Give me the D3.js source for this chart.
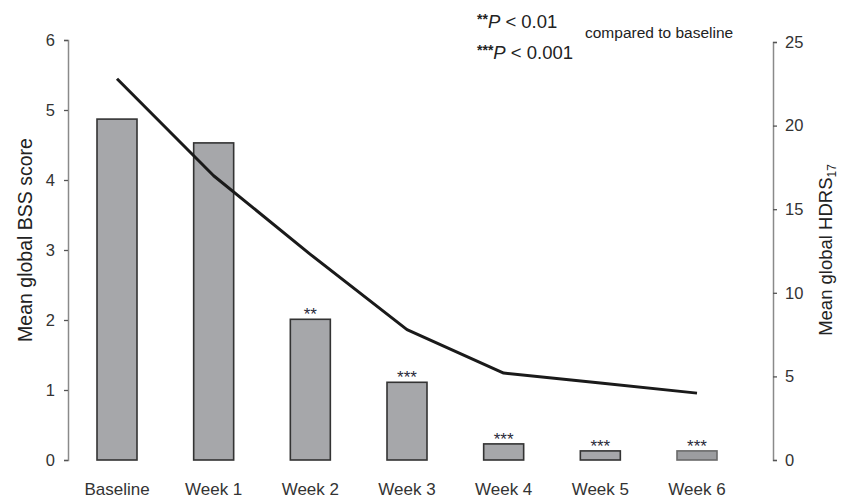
<!DOCTYPE html>
<html>
<head>
<meta charset="utf-8">
<script src="https://cdn.jsdelivr.net/npm/d3@7/dist/d3.min.js"></script>
<style>
  html, body { margin: 0; padding: 0; background: #fff; }
  svg { display: block; font-family: "Liberation Sans", Arial, sans-serif; }
</style>
</head>
<body>
<svg id="chart" width="846" height="499"></svg>
<script>
const categories = ["Baseline", "Week 1", "Week 2", "Week 3", "Week 4", "Week 5", "Week 6"];
const bssValues = [4.87, 4.53, 2.01, 1.11, 0.23, 0.13, 0.13];
const hdrsValues = [22.8, 17.0, 12.3, 7.8, 5.2, 4.6, 4.0];
const significance = ["", "", "**", "***", "***", "***", "***"];
const leftTicks = [0, 1, 2, 3, 4, 5, 6];
const rightTicks = [0, 5, 10, 15, 20, 25];

const svg = d3.select("#chart");
const textColor = "#333";

const x = d3.scalePoint().domain(categories).range([117, 697]);
const barWidth = 40;
const yLeft = d3.scaleLinear().domain([0, 6]).range([460, 40]);
const yRight = d3.scaleLinear().domain([0, 25]).range([460, 42]);

// Left axis
const leftAxis = svg.append("g").attr("transform", "translate(68,0)")
  .call(d3.axisLeft(yLeft).tickValues(leftTicks).tickSize(4).tickPadding(9).tickFormat(d3.format("d")));
leftAxis.select(".domain").attr("stroke", "#8a8a8a").attr("stroke-width", 1.5);
leftAxis.selectAll(".tick line").attr("stroke", "#555").attr("stroke-width", 1.3);
leftAxis.selectAll(".tick text").attr("fill", textColor).attr("font-size", 16.5)
  .attr("font-family", "Liberation Sans, Arial, sans-serif");

// Right axis
const rightAxis = svg.append("g").attr("transform", "translate(773,0)")
  .call(d3.axisRight(yRight).tickValues(rightTicks).tickSize(4).tickPadding(8).tickFormat(d3.format("d")));
rightAxis.select(".domain").attr("stroke", "#8a8a8a").attr("stroke-width", 1.5);
rightAxis.selectAll(".tick line").attr("stroke", "#555").attr("stroke-width", 1.3);
rightAxis.selectAll(".tick text").attr("fill", textColor).attr("font-size", 16.5)
  .attr("font-family", "Liberation Sans, Arial, sans-serif");

// Bars
svg.append("g").selectAll("rect")
  .data(categories)
  .join("rect")
  .attr("x", d => x(d) - barWidth / 2)
  .attr("y", (d, i) => yLeft(bssValues[i]))
  .attr("width", barWidth)
  .attr("height", (d, i) => yLeft(0) - yLeft(bssValues[i]))
  .attr("fill", (d, i) => i === 6 ? "#9c9da0" : "#a6a7aa")
  .attr("stroke", (d, i) => i === 6 ? "#6a6a6a" : "#333")
  .attr("stroke-width", 1.6);

// Significance stars
svg.append("g").selectAll("text")
  .data(categories)
  .join("text")
  .attr("x", d => x(d))
  .attr("y", (d, i) => yLeft(bssValues[i]) + 1)
  .attr("text-anchor", "middle")
  .attr("font-size", 17)
  .attr("fill", "#2a2a3a")
  .text((d, i) => significance[i]);

// HDRS line
const line = d3.line()
  .x(d => x(d))
  .y((d, i) => yRight(hdrsValues[i]))
  .curve(d3.curveLinear);
svg.append("path")
  .datum(categories)
  .attr("d", line)
  .attr("fill", "none")
  .attr("stroke", "#1a1a1a")
  .attr("stroke-width", 3)
  .attr("stroke-linejoin", "round");

// X labels
svg.append("g").selectAll("text")
  .data(categories)
  .join("text")
  .attr("x", d => x(d))
  .attr("y", 495)
  .attr("text-anchor", "middle")
  .attr("font-size", 17)
  .attr("fill", textColor)
  .text(d => d);

// Left title
svg.append("text")
  .attr("transform", "translate(32,240) rotate(-90)")
  .attr("text-anchor", "middle")
  .attr("font-size", 19.5)
  .attr("fill", "#222")
  .text("Mean global BSS score");

// Right title
const rt = svg.append("text")
  .attr("transform", "translate(832,250) rotate(-90)")
  .attr("text-anchor", "middle")
  .attr("font-size", 18.5)
  .attr("fill", "#222");
rt.append("tspan").text("Mean global HDRS");
rt.append("tspan").attr("font-size", 12).attr("dy", 4).text("17");

// Legend
const lg1 = svg.append("text").attr("x", 477).attr("y", 28).attr("font-size", 18.5).attr("fill", "#222");
lg1.append("tspan").attr("font-size", 14).attr("font-weight", "bold").attr("dy", -4).text("**");
lg1.append("tspan").attr("font-style", "italic").attr("dy", 4).text("P");
lg1.append("tspan").text(" < 0.01");

const lg2 = svg.append("text").attr("x", 477).attr("y", 59).attr("font-size", 18.5).attr("fill", "#222");
lg2.append("tspan").attr("font-size", 14).attr("font-weight", "bold").attr("dy", -4).text("***");
lg2.append("tspan").attr("font-style", "italic").attr("dy", 4).text("P");
lg2.append("tspan").text(" < 0.001");

svg.append("text").attr("x", 585).attr("y", 38).attr("font-size", 15.5).attr("fill", "#222")
  .text("compared to baseline");
</script>
</body>
</html>
